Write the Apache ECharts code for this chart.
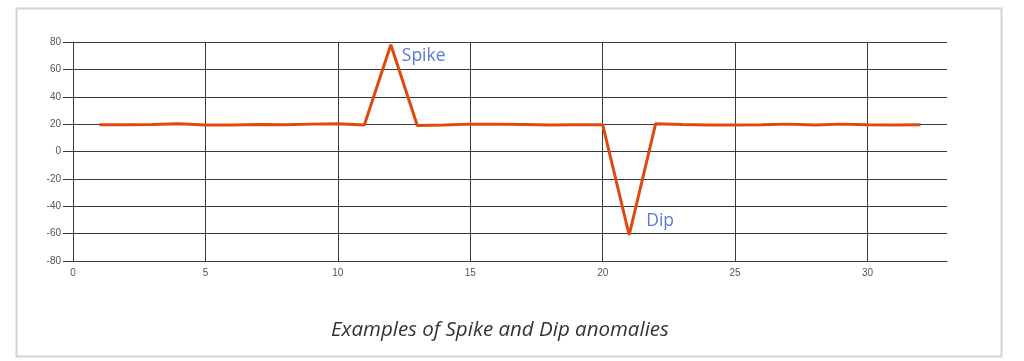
<!DOCTYPE html>
<html>
<head>
<meta charset="utf-8">
<script src="https://cdn.jsdelivr.net/npm/echarts@6/dist/echarts.min.js"></script>
<style>
html,body{margin:0;padding:0;background:#fff;}
#chart{width:1024px;height:361px;}
</style>
</head>
<body>
<div id="chart"></div>
<script>
const xValues = [1,2,3,4,5,6,7,8,9,10,11,12,13,14,15,16,17,18,19,20,21,22,23,24,25,26,27,28,29,30,31,32];
const yValues = [19.5,19.5,19.7,20.2,19.3,19.3,19.8,19.5,20,20.3,19.3,78,19,19.3,20,20,19.8,19.3,19.5,19.5,-61,20.3,19.8,19.4,19.4,19.6,20,19.3,20,19.5,19.3,19.5];
const annotations = [
  {x: 12, y: 78, text: 'Spike'},
  {x: 21, y: -61, text: 'Dip'}
];
const titleText = 'Examples of Spike and Dip anomalies';

const chart = echarts.init(document.getElementById('chart'), null, {renderer: 'canvas'});
const gridColor = '#3a3a3a';
chart.setOption({
  animation: false,
  backgroundColor: '#fff',
  title: {
    text: titleText,
    left: 326, top: 315,
    textStyle: {fontFamily: 'Open Sans', fontStyle: 'italic', fontWeight: 'normal', fontSize: 20.5, color: '#333'}
  },
  graphic: [{
    type: 'rect', left: 14, top: 6, silent: true,
    shape: {width: 985, height: 348},
    style: {fill: 'none', stroke: '#d4d4d4', lineWidth: 2}
  }],
  grid: {left: 73, right: 77, top: 42, bottom: 100},
  xAxis: {
    type: 'value', min: 0, max: 33, interval: 5,
    axisLine: {show: true, onZero: false, lineStyle: {color: gridColor, width: 1}},
    axisTick: {show: false},
    axisLabel: {showMaxLabel: false, color: '#555', fontFamily: 'Liberation Sans', fontSize: 10, margin: 7},
    splitLine: {show: true, showMaxLine: false, lineStyle: {color: gridColor, width: 1}}
  },
  yAxis: {
    type: 'value', min: -80, max: 80, interval: 20,
    axisLine: {show: true, lineStyle: {color: gridColor, width: 1}},
    axisTick: {show: true, length: 10, lineStyle: {color: gridColor}},
    axisLabel: {color: '#555', fontFamily: 'Liberation Sans', fontSize: 10, margin: 12},
    splitLine: {show: true, lineStyle: {color: gridColor, width: 1}}
  },
  series: [{
    type: 'line',
    data: xValues.map((x, i) => [x, yValues[i]]),
    symbol: 'none',
    lineStyle: {color: '#E0480C', width: 3},
    itemStyle: {color: '#E0480C'},
    markPoint: {
      symbol: 'circle', symbolSize: 0,
      data: annotations.map((a, i) => ({
        coord: [a.x, a.y],
        label: {
          show: true, formatter: a.text, position: 'inside', align: 'left', verticalAlign: 'middle',
          offset: i === 0 ? [11, 11] : [17, -14],
          color: '#5B7BD5', fontFamily: 'Open Sans', fontSize: 17.5
        }
      }))
    }
  }]
});
</script>
</body>
</html>
